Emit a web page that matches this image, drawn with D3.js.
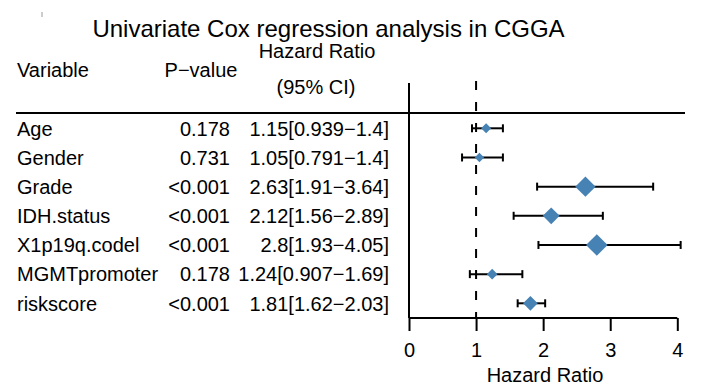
<!DOCTYPE html>
<html>
<head>
<meta charset="utf-8">
<script src="https://cdn.jsdelivr.net/npm/d3@7"></script>
<style>
  body { margin: 0; background: #fff; }
  text { font-family: "Liberation Sans", Arial, Helvetica, sans-serif; fill: #000; }
</style>
</head>
<body>
<div id="chart"></div>
<script>
/* DATA */
const variables = ["Age", "Gender", "Grade", "IDH.status", "X1p19q.codel", "MGMTpromoter", "riskscore"];
const pvalues = ["0.178", "0.731", "<0.001", "<0.001", "<0.001", "0.178", "<0.001"];
const hr = [1.15, 1.05, 2.63, 2.12, 2.8, 1.24, 1.81];
const hrLow = [0.939, 0.791, 1.91, 1.56, 1.93, 0.907, 1.62];
const hrHigh = [1.4, 1.4, 3.64, 2.89, 4.05, 1.69, 2.03];
const xTicks = [0, 1, 2, 3, 4];

/* CONSTANTS */
const width = 703, height = 386;
const boxColor = "steelblue";

const rows = variables.map((v, i) => ({
  name: v, p: pvalues[i], hr: hr[i], lo: hrLow[i], hi: hrHigh[i]
}));

const svg = d3.select("#chart")
  .append("svg")
    .attr("width", width)
    .attr("height", height);

const xScale = d3.scaleLinear()
  .domain([0, 4])
  .range([409, 677.3]);

const yScale = d3.scalePoint()
  .domain(variables)
  .range([128.3, 303.3]);

// diamond half-diagonal grows with the hazard ratio
const sizeScale = d3.scaleLinear()
  .domain([0, 1])
  .range([1, 4.5]);

// little stray mark top-left
svg.append("line")
  .attr("x1", 42).attr("x2", 42).attr("y1", 12).attr("y2", 17)
  .attr("stroke", "#999").attr("stroke-width", 1);

// title
svg.append("text")
  .attr("x", 328.5).attr("y", 37)
  .attr("text-anchor", "middle")
  .style("font-size", "24px")
  .text("Univariate Cox regression analysis in CGGA");

// column headers
const header = svg.append("g").style("font-size", "20px");
header.append("text").attr("x", 17).attr("y", 77).text("Variable");
header.append("text").attr("x", 201).attr("y", 77).attr("text-anchor", "middle").text("P\u2212value");
header.append("text").attr("x", 317).attr("y", 58).attr("text-anchor", "middle").text("Hazard Ratio");
header.append("text").attr("x", 316).attr("y", 94).attr("text-anchor", "middle").text("(95% CI)");

// top rule
svg.append("line")
  .attr("x1", 16).attr("x2", 685)
  .attr("y1", 113).attr("y2", 113)
  .attr("stroke", "#000").attr("stroke-width", 2);

// table rows
const table = svg.append("g").style("font-size", "20px");
table.selectAll(".var")
  .data(rows)
  .join("text")
    .attr("class", "var")
    .attr("x", 17)
    .attr("y", d => yScale(d.name))
    .attr("dy", "0.36em")
    .text(d => d.name);

table.selectAll(".pval")
  .data(rows)
  .join("text")
    .attr("class", "pval")
    .attr("x", 230)
    .attr("y", d => yScale(d.name))
    .attr("dy", "0.36em")
    .attr("text-anchor", "end")
    .text(d => d.p);

table.selectAll(".hrtxt")
  .data(rows)
  .join("text")
    .attr("class", "hrtxt")
    .attr("x", 389)
    .attr("y", d => yScale(d.name))
    .attr("dy", "0.36em")
    .attr("text-anchor", "end")
    .text(d => `${d.hr}[${d.lo}\u2212${d.hi}]`);

// vertical axis line of the forest panel
svg.append("line")
  .attr("x1", xScale(0)).attr("x2", xScale(0))
  .attr("y1", 83).attr("y2", 318)
  .attr("stroke", "#000").attr("stroke-width", 2);

// reference line at HR = 1
svg.append("line")
  .attr("x1", xScale(1)).attr("x2", xScale(1))
  .attr("y1", 81).attr("y2", 318)
  .attr("stroke", "#000").attr("stroke-width", 2)
  .attr("stroke-dasharray", "9,12");

// x axis
const xAxis = d3.axisBottom(xScale)
  .tickValues(xTicks)
  .tickFormat(d3.format("d"))
  .tickSize(13)
  .tickPadding(12);

svg.append("g")
  .attr("class", "x-axis")
  .attr("transform", "translate(0,318)")
  .call(xAxis)
  .call(g => g.select(".domain").attr("stroke-width", 2).attr("d", `M${xScale(0)},0H${xScale(4)}`))
  .call(g => g.selectAll(".tick line").attr("stroke-width", 2))
  .call(g => g.selectAll(".tick text")
    .style("font-size", "20px")
    .style("font-family", '"Liberation Sans", Arial, sans-serif'));

svg.append("text")
  .attr("x", 545).attr("y", 381.5)
  .attr("text-anchor", "middle")
  .style("font-size", "20px")
  .text("Hazard Ratio");

// error bars
const bars = svg.append("g").attr("stroke", "#000").attr("stroke-width", 2);
bars.selectAll(".ci")
  .data(rows)
  .join("line")
    .attr("class", "ci")
    .attr("x1", d => xScale(d.lo))
    .attr("x2", d => xScale(d.hi))
    .attr("y1", d => yScale(d.name))
    .attr("y2", d => yScale(d.name));

bars.selectAll(".capL")
  .data(rows)
  .join("line")
    .attr("class", "capL")
    .attr("x1", d => xScale(d.lo)).attr("x2", d => xScale(d.lo))
    .attr("y1", d => yScale(d.name) - 4).attr("y2", d => yScale(d.name) + 4);

bars.selectAll(".capR")
  .data(rows)
  .join("line")
    .attr("class", "capR")
    .attr("x1", d => xScale(d.hi)).attr("x2", d => xScale(d.hi))
    .attr("y1", d => yScale(d.name) - 4).attr("y2", d => yScale(d.name) + 4);

// diamonds
svg.selectAll(".box")
  .data(rows)
  .join("path")
    .attr("class", "box")
    .attr("d", d => {
      const h = sizeScale(d.hr);
      return d3.symbol(d3.symbolSquare, 2 * h * h)();
    })
    .attr("transform", d => `translate(${xScale(d.hr)},${yScale(d.name)}) rotate(45)`)
    .attr("fill", boxColor);
</script>
</body>
</html>
